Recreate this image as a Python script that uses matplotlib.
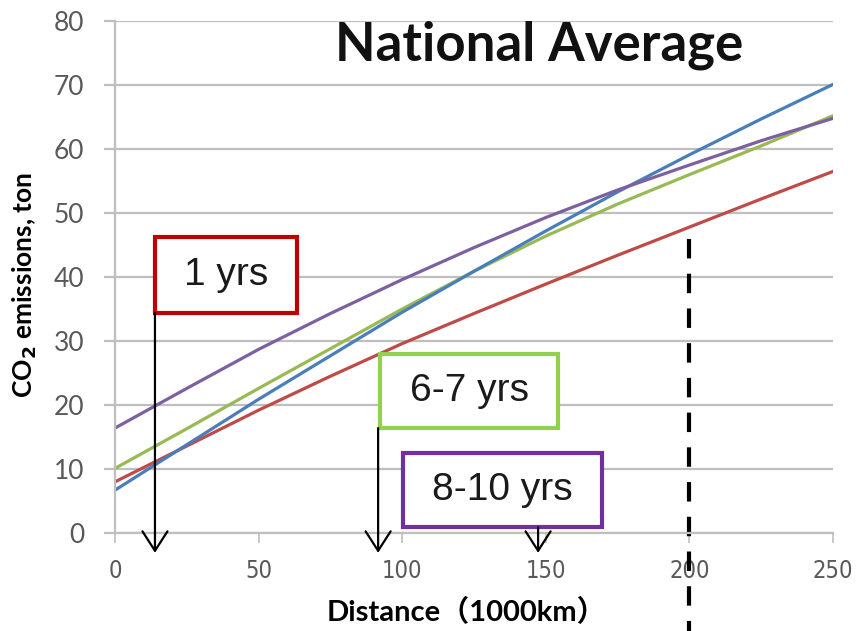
import matplotlib
matplotlib.use("Agg")
import matplotlib.pyplot as plt
from matplotlib.patches import Rectangle

# distance (1000 km) and CO2 emissions (ton)
distance = [0, 25, 50, 75, 100, 125, 150, 175, 200, 225, 250]
blue_co2 = [6.7, 13.8, 20.9, 27.7, 34.5, 40.9, 47.2, 53.3, 59.1, 64.7, 70.1]
green_co2 = [10.1, 16.3, 22.6, 28.8, 35.0, 40.9, 46.4, 51.4, 56.0, 60.5, 65.2]
purple_co2 = [16.4, 22.6, 28.7, 34.3, 39.6, 44.6, 49.3, 53.6, 57.5, 61.3, 64.8]
red_co2 = [8.0, 13.6, 19.2, 24.5, 29.6, 34.3, 38.9, 43.4, 47.8, 52.2, 56.5]

x_ticks = [0, 50, 100, 150, 200, 250]
y_ticks = [0, 10, 20, 30, 40, 50, 60, 70, 80]

cutoff_x = 200
cutoff_top = 46

# label boxes: text, edge colour, x0, x1, y0, y1, arrow x
boxes = [
    ("1 yrs", "#C00000", 13.9, 63.4, 34.4, 46.3, 13.9),
    ("6-7 yrs", "#92D050", 92.3, 154.2, 16.4, 27.9, 91.6),
    ("8-10 yrs", "#7030A0", 100.3, 169.6, 0.9, 12.5, 147.3),
]
arrow_tip = -3.1

plt.rcParams['lines.scale_dashes'] = False

fig = plt.figure(figsize=(8.63, 6.31), dpi=100)
ax = fig.add_axes([0.1333, 0.1553, 0.832, 0.8114])

grid_c = '#BFBFBF'
ax.set_xlim(0, 250)
ax.set_ylim(0, 80)
ax.set_xticks(x_ticks)
ax.set_yticks(y_ticks)
ax.yaxis.grid(True, color=grid_c, lw=1.6)
ax.set_axisbelow(True)
for s in ['top', 'right']:
    ax.spines[s].set_visible(False)
for s in ['left', 'bottom']:
    ax.spines[s].set_color(grid_c)
    ax.spines[s].set_linewidth(1.6)
ax.tick_params(axis='y', length=8, width=1.6, color=grid_c, pad=14,
               labelsize=19, labelcolor='#595959')
ax.tick_params(axis='x', length=7, width=1.2, color=grid_c, pad=12,
               labelsize=17, labelcolor='#595959')
for lab in ax.get_xticklabels():
    lab.set_family(['Liberation Sans Narrow', 'DejaVu Sans'])
    lab.set_stretch('condensed')
for lab in ax.get_yticklabels():
    lab.set_family(['Lato', 'DejaVu Sans'])

ax.plot(distance, red_co2, color='#BE4B48', lw=2.3)
ax.plot(distance, green_co2, color='#98B954', lw=2.3)
ax.plot(distance, blue_co2, color='#4A7EBB', lw=2.3)
ax.plot(distance, purple_co2, color='#7D60A0', lw=2.3)

ax.plot([cutoff_x, cutoff_x], [cutoff_top, -15.5], color='black', lw=3,
        dashes=(14, 11), clip_on=False)

for text, col, x0, x1, y0, y1, ax_x in boxes:
    ax.add_patch(Rectangle((x0, y0), x1 - x0, y1 - y0, facecolor='white',
                           edgecolor=col, lw=3, zorder=5))
    ax.text((x0 + x1) / 2, (y0 + y1) / 2, text, ha='center', va='center',
            fontsize=28, family='Liberation Sans', color='#1a1a1a', zorder=6)
    ax.annotate('', xy=(ax_x, arrow_tip), xytext=(ax_x, y0),
                arrowprops=dict(arrowstyle='->,head_length=0.7,head_width=0.45',
                                color='black', lw=1.6, shrinkA=0, shrinkB=0,
                                mutation_scale=20),
                annotation_clip=False, zorder=7)

ax.text(0.59, 0.953, 'National Average', transform=ax.transAxes,
        ha='center', va='center', fontsize=38, fontweight='bold',
        family=['Lato', 'DejaVu Sans'], color='#111111')

fig.text(0.029, 0.548, r'CO$_\mathbf{2}$ emissions, ton', rotation=90,
         ha='center', va='center', fontsize=19, fontweight='bold',
         family=['Lato', 'DejaVu Sans'])
fig.text(0.54, 0.030, 'Distance（1000km）', ha='center', va='center',
         fontsize=21, fontweight='bold',
         family=['Lato', 'Noto Sans CJK SC', 'DejaVu Sans'])

fig.savefig('out.png', dpi=100)
